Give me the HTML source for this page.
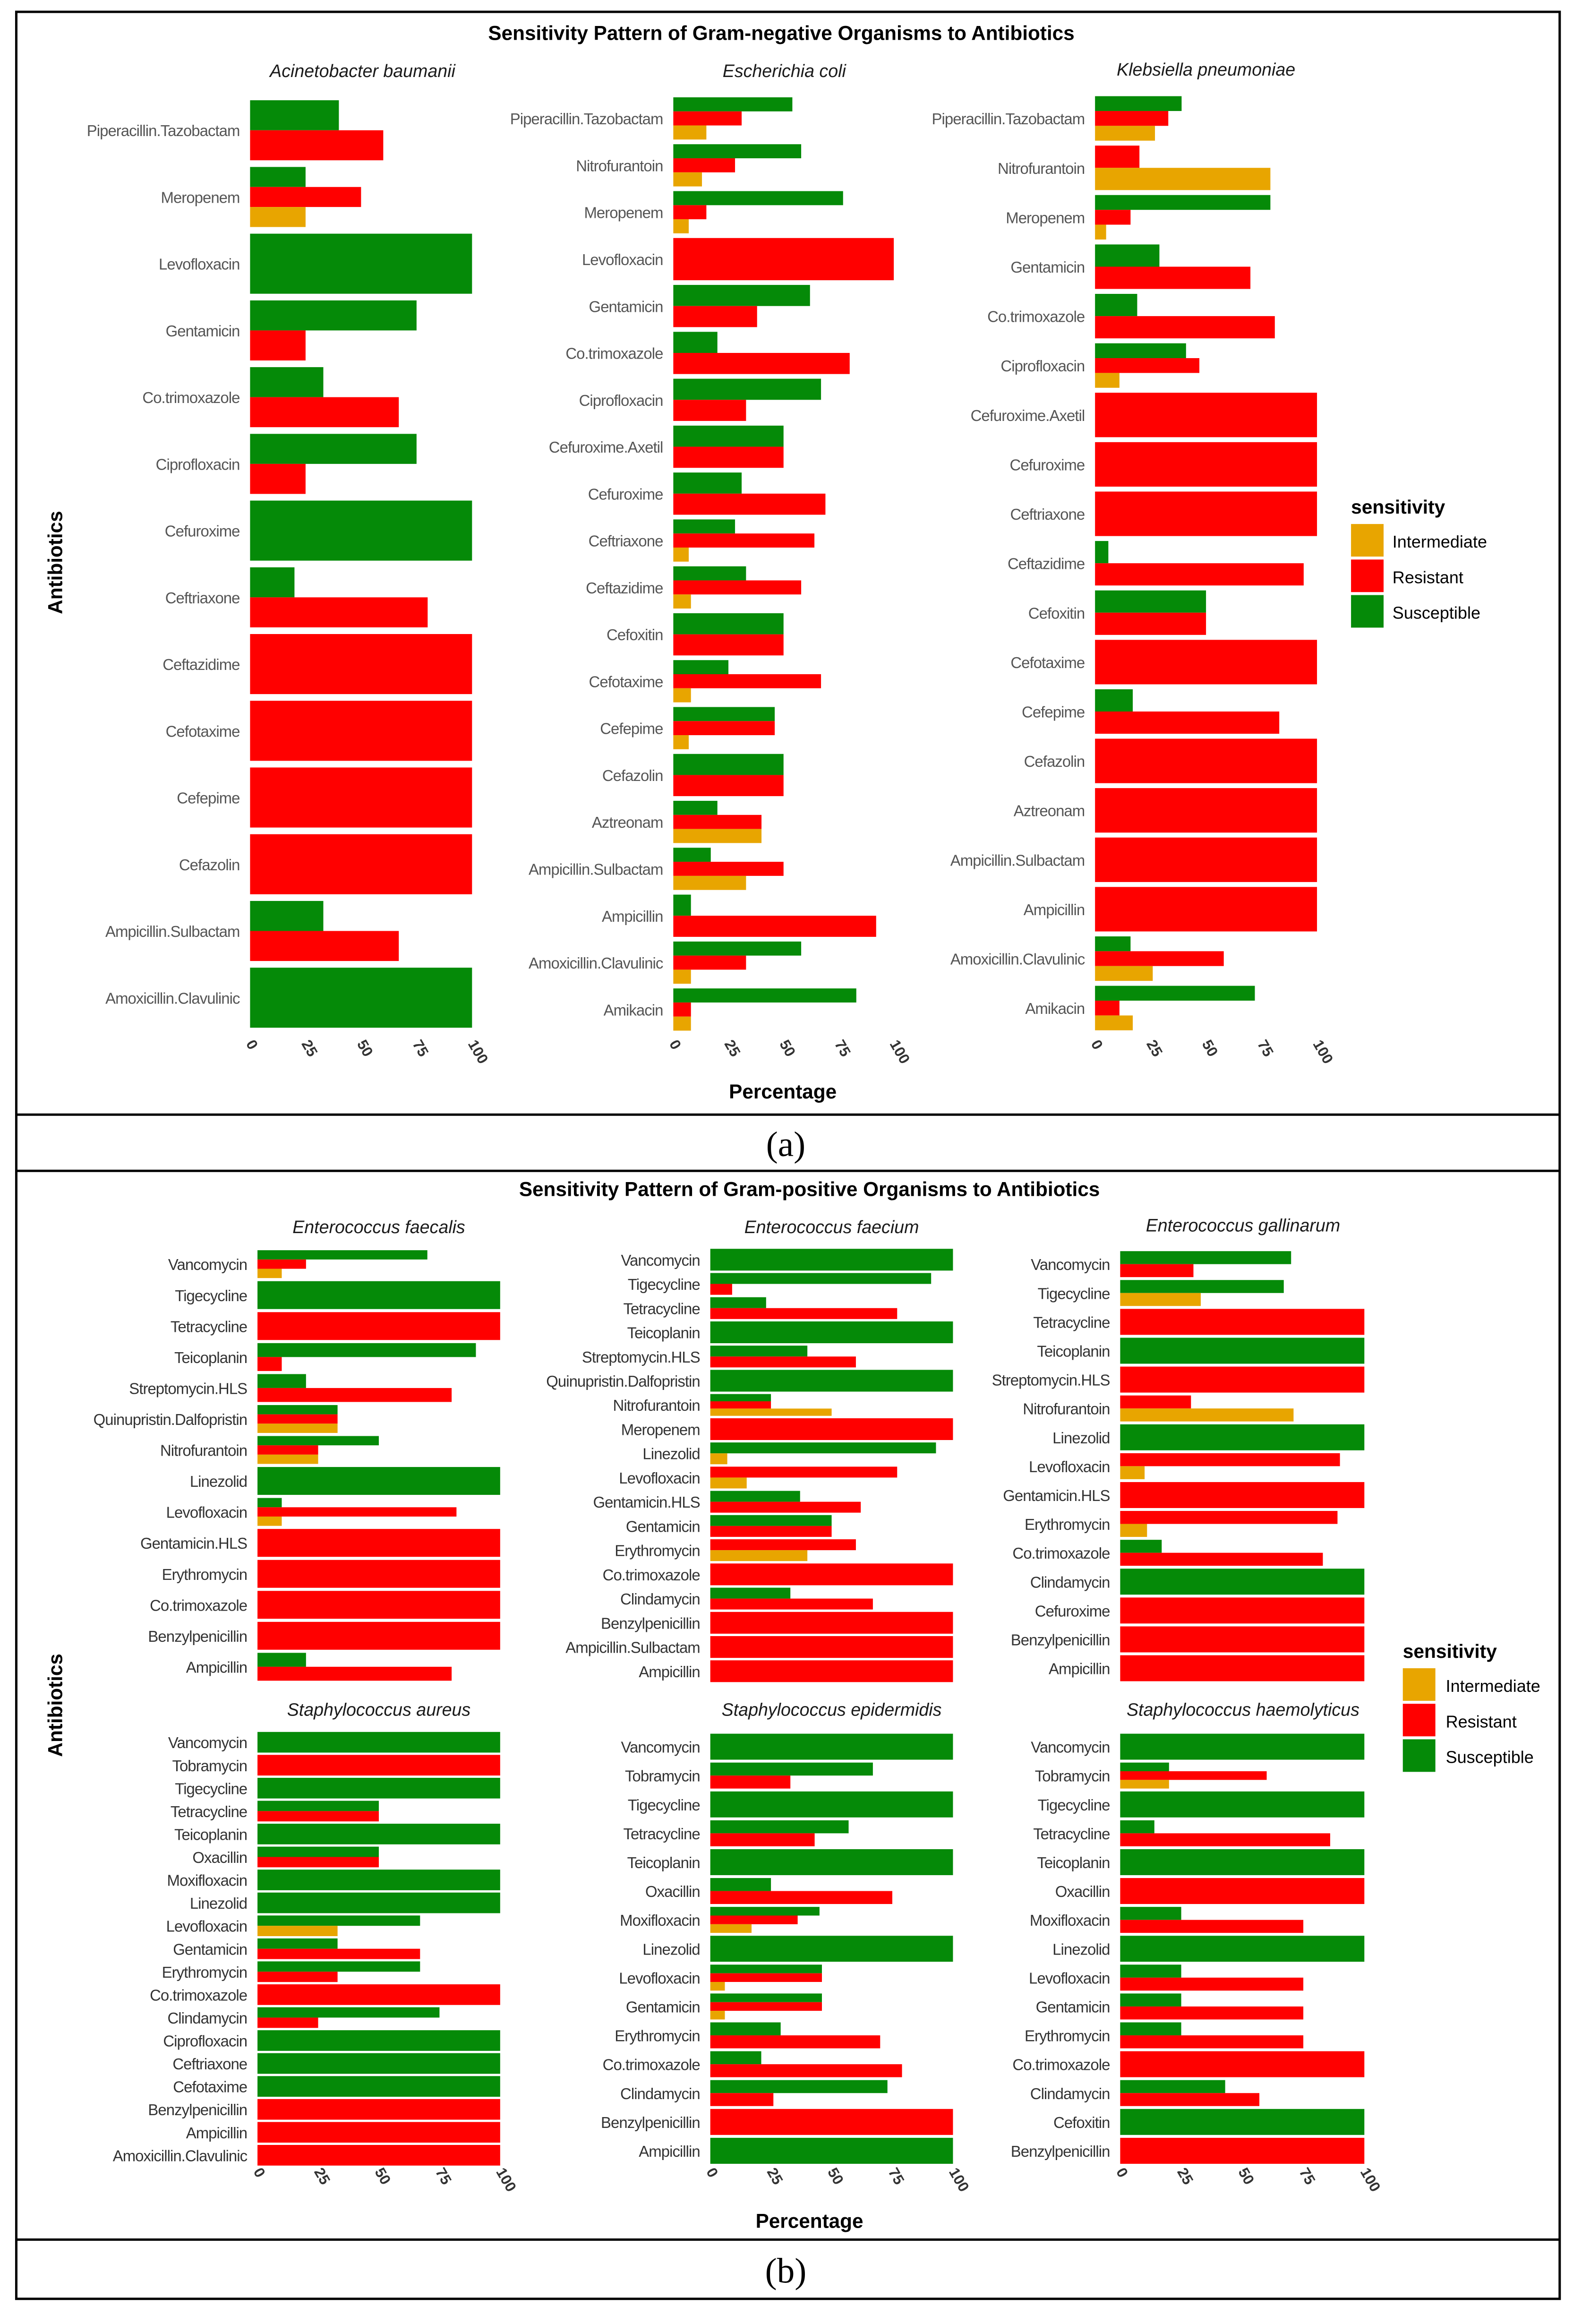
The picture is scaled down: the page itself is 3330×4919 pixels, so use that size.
<!DOCTYPE html>
<html><head><meta charset="utf-8"><style>
html,body{margin:0;padding:0;background:#fff}
svg{display:block}
text{font-family:"Liberation Sans",sans-serif}
</style></head><body>
<svg id="fig" width="3330" height="4919" viewBox="0 0 1063 1570" preserveAspectRatio="none" xmlns="http://www.w3.org/2000/svg">
<rect x="0" y="0" width="1063" height="1570" fill="#fff"/>
<rect x="11" y="8" width="1043" height="1545" fill="none" stroke="#000" stroke-width="1.6"/>
<line x1="11" y1="753" x2="1054" y2="753" stroke="#000" stroke-width="1.6"/>
<line x1="11" y1="791" x2="1054" y2="791" stroke="#000" stroke-width="1.6"/>
<line x1="11" y1="1513" x2="1054" y2="1513" stroke="#000" stroke-width="1.6"/>
<text x="531" y="781" text-anchor="middle" font-size="24" style="font-family:'Liberation Serif',serif">(a)</text>
<text x="531" y="1542" text-anchor="middle" font-size="24" style="font-family:'Liberation Serif',serif">(b)</text>
<text x="528" y="27" text-anchor="middle" font-size="13.5" font-weight="bold">Sensitivity Pattern of Gram-negative Organisms to Antibiotics</text>
<text x="547" y="808" text-anchor="middle" font-size="13.5" font-weight="bold">Sensitivity Pattern of Gram-positive Organisms to Antibiotics</text>
<text transform="translate(42,380) rotate(-90)" text-anchor="middle" font-size="13.5" font-weight="bold">Antibiotics</text>
<text transform="translate(42,1152) rotate(-90)" text-anchor="middle" font-size="13.5" font-weight="bold">Antibiotics</text>
<text x="529" y="742" text-anchor="middle" font-size="13.5" font-weight="bold">Percentage</text>
<text x="547" y="1505" text-anchor="middle" font-size="13.5" font-weight="bold">Percentage</text>
<g id="legend-a">
<text x="913" y="347" font-size="13" font-weight="bold">sensitivity</text>
<rect x="913" y="354" width="22" height="22" fill="#e8a500"/><text x="941" y="370" font-size="11.5">Intermediate</text>
<rect x="913" y="378" width="22" height="22" fill="#ff0000"/><text x="941" y="394" font-size="11.5">Resistant</text>
<rect x="913" y="402" width="22" height="22" fill="#058a08"/><text x="941" y="418" font-size="11.5">Susceptible</text>
</g>
<g id="legend-b">
<text x="948" y="1120" font-size="13" font-weight="bold">sensitivity</text>
<rect x="948" y="1127" width="22" height="22" fill="#e8a500"/><text x="977" y="1143" font-size="11.5">Intermediate</text>
<rect x="948" y="1151" width="22" height="22" fill="#ff0000"/><text x="977" y="1167" font-size="11.5">Resistant</text>
<rect x="948" y="1175" width="22" height="22" fill="#058a08"/><text x="977" y="1191" font-size="11.5">Susceptible</text>
</g>
<g id="plots"></g>
</svg>
<script>
const N = null;
const tickValues = [0, 25, 50, 75, 100];
const tickLabels = ["0", "25", "50", "75", "100"];

// Panel a - Acinetobacter baumanii
const catsA1 = ["Piperacillin.Tazobactam","Meropenem","Levofloxacin","Gentamicin","Co.trimoxazole","Ciprofloxacin","Cefuroxime","Ceftriaxone","Ceftazidime","Cefotaxime","Cefepime","Cefazolin","Ampicillin.Sulbactam","Amoxicillin.Clavulinic"];
const susA1 = [40,25,100,75,33,75,100,20,N,N,N,N,33,100];
const resA1 = [60,50,N,25,67,25,N,80,100,100,100,100,67,N];
const intA1 = [N,25,N,N,N,N,N,N,N,N,N,N,N,N];
// Panel a - Escherichia coli
const catsA2 = ["Piperacillin.Tazobactam","Nitrofurantoin","Meropenem","Levofloxacin","Gentamicin","Co.trimoxazole","Ciprofloxacin","Cefuroxime.Axetil","Cefuroxime","Ceftriaxone","Ceftazidime","Cefoxitin","Cefotaxime","Cefepime","Cefazolin","Aztreonam","Ampicillin.Sulbactam","Ampicillin","Amoxicillin.Clavulinic","Amikacin"];
const susA2 = [54,58,77,N,62,20,67,50,31,28,33,50,25,46,50,20,17,8,58,83];
const resA2 = [31,28,15,100,38,80,33,50,69,64,58,50,67,46,50,40,50,92,33,8];
const intA2 = [15,13,7,N,N,N,N,N,N,7,8,N,8,7,N,40,33,N,8,8];
// Panel a - Klebsiella pneumoniae
const catsA3 = ["Piperacillin.Tazobactam","Nitrofurantoin","Meropenem","Gentamicin","Co.trimoxazole","Ciprofloxacin","Cefuroxime.Axetil","Cefuroxime","Ceftriaxone","Ceftazidime","Cefoxitin","Cefotaxime","Cefepime","Cefazolin","Aztreonam","Ampicillin.Sulbactam","Ampicillin","Amoxicillin.Clavulinic","Amikacin"];
const susA3 = [39,N,79,29,19,41,N,N,N,6,50,N,17,N,N,N,N,16,72];
const resA3 = [33,20,16,70,81,47,100,100,100,94,50,100,83,100,100,100,100,58,11];
const intA3 = [27,79,5,N,N,11,N,N,N,N,N,N,N,N,N,N,N,26,17];
// Panel b - Enterococcus faecalis
const catsB1 = ["Vancomycin","Tigecycline","Tetracycline","Teicoplanin","Streptomycin.HLS","Quinupristin.Dalfopristin","Nitrofurantoin","Linezolid","Levofloxacin","Gentamicin.HLS","Erythromycin","Co.trimoxazole","Benzylpenicillin","Ampicillin"];
const susB1 = [70,100,N,90,20,33,50,100,10,N,N,N,N,20];
const resB1 = [20,N,100,10,80,33,25,N,82,100,100,100,100,80];
const intB1 = [10,N,N,N,N,33,25,N,10,N,N,N,N,N];
// Panel b - Enterococcus faecium
const catsB2 = ["Vancomycin","Tigecycline","Tetracycline","Teicoplanin","Streptomycin.HLS","Quinupristin.Dalfopristin","Nitrofurantoin","Meropenem","Linezolid","Levofloxacin","Gentamicin.HLS","Gentamicin","Erythromycin","Co.trimoxazole","Clindamycin","Benzylpenicillin","Ampicillin.Sulbactam","Ampicillin"];
const susB2 = [100,91,23,100,40,100,25,N,93,N,37,50,N,N,33,N,N,N];
const resB2 = [N,9,77,N,60,N,25,100,N,77,62,50,60,100,67,100,100,100];
const intB2 = [N,N,N,N,N,N,50,N,7,15,N,N,40,N,N,N,N,N];
// Panel b - Enterococcus gallinarum
const catsB3 = ["Vancomycin","Tigecycline","Tetracycline","Teicoplanin","Streptomycin.HLS","Nitrofurantoin","Linezolid","Levofloxacin","Gentamicin.HLS","Erythromycin","Co.trimoxazole","Clindamycin","Cefuroxime","Benzylpenicillin","Ampicillin"];
const susB3 = [70,67,N,100,N,N,100,N,N,N,17,100,N,N,N];
const resB3 = [30,N,100,N,100,29,N,90,100,89,83,N,100,100,100];
const intB3 = [N,33,N,N,N,71,N,10,N,11,N,N,N,N,N];
// Panel b - Staphylococcus aureus
const catsB4 = ["Vancomycin","Tobramycin","Tigecycline","Tetracycline","Teicoplanin","Oxacillin","Moxifloxacin","Linezolid","Levofloxacin","Gentamicin","Erythromycin","Co.trimoxazole","Clindamycin","Ciprofloxacin","Ceftriaxone","Cefotaxime","Benzylpenicillin","Ampicillin","Amoxicillin.Clavulinic"];
const susB4 = [100,N,100,50,100,50,100,100,67,33,67,N,75,100,100,100,N,N,N];
const resB4 = [N,100,N,50,N,50,N,N,N,67,33,100,25,N,N,N,100,100,100];
const intB4 = [N,N,N,N,N,N,N,N,33,N,N,N,N,N,N,N,N,N,N];
// Panel b - Staphylococcus epidermidis
const catsB5 = ["Vancomycin","Tobramycin","Tigecycline","Tetracycline","Teicoplanin","Oxacillin","Moxifloxacin","Linezolid","Levofloxacin","Gentamicin","Erythromycin","Co.trimoxazole","Clindamycin","Benzylpenicillin","Ampicillin"];
const susB5 = [100,67,100,57,100,25,45,100,46,46,29,21,73,N,100];
const resB5 = [N,33,N,43,N,75,36,N,46,46,70,79,26,100,N];
const intB5 = [N,N,N,N,N,N,17,N,6,6,N,N,N,N,N];
// Panel b - Staphylococcus haemolyticus
const catsB6 = ["Vancomycin","Tobramycin","Tigecycline","Tetracycline","Teicoplanin","Oxacillin","Moxifloxacin","Linezolid","Levofloxacin","Gentamicin","Erythromycin","Co.trimoxazole","Clindamycin","Cefoxitin","Benzylpenicillin"];
const susB6 = [100,20,100,14,100,N,25,100,25,25,25,N,43,100,N];
const resB6 = [N,60,N,86,N,100,75,N,75,75,75,100,57,N,100];
const intB6 = [N,20,N,N,N,N,N,N,N,N,N,N,N,N,N];

const NS = "http://www.w3.org/2000/svg";
const root = document.getElementById("plots");
const COLORS = {S:"#058a08", R:"#ff0000", I:"#e8a500"};
const KEYS = {S:"susceptible", R:"resistant", I:"intermediate"};

function mk(tag, attrs, parent){
  const e = document.createElementNS(NS, tag);
  for (const k in attrs) e.setAttribute(k, attrs[k]);
  parent.appendChild(e);
  return e;
}

function facet(id, title, tx, ty, x0, x1, yFirst, yLast, cats, sus, res, intm, labelColor, tickY){
  const g = mk("g", {}, root);
  
  
  const step = (yLast - yFirst) / (cats.length - 1);
  const xs = v => x0 + v / 100 * (x1 - x0);
  const ys = i => yFirst + i * step;
  const t = mk("text", {x: tx, y: ty, "text-anchor": "middle", "font-size": 12, "font-style": "italic", fill: "#1a1a1a"}, g);
  
  
  t.textContent = title;
  const total = step * 0.9;
  cats.forEach((c, i) => {
    const cy = ys(i);
    const lab = mk("text", {x: x0 - 7, y: cy + 4, "text-anchor": "end", "font-size": 10.5, fill: labelColor, "letter-spacing": "-0.3"}, g);
    
    
    lab.textContent = c;
    const groups = [];
    if (sus[i] != null) groups.push(["S", sus[i]]);
    if (res[i] != null) groups.push(["R", res[i]]);
    if (intm[i] != null) groups.push(["I", intm[i]]);
    const w = total / groups.length;
    groups.forEach((gr, j) => {
      const r = mk("rect", {x: xs(0), y: cy - total / 2 + j * w, width: Math.max(0, xs(gr[1]) - xs(0)), height: w, fill: COLORS[gr[0]]}, g);
      
      
    });
  });
  if (tickY != null) {
    tickValues.forEach((v, k) => {
      const tl = mk("text", {x: 0, y: 0, "font-size": 10, "font-weight": "bold", fill: "#333", transform: "translate(" + (xs(v) - 3) + "," + tickY + ") rotate(60)"}, g);
      
      
      tl.textContent = tickLabels[k];
    });
  }
}

facet("acinetobacter", "Acinetobacter baumanii", 245, 52, 169, 319, 88, 674, catsA1, susA1, resA1, intA1, "#555", 705);
facet("ecoli", "Escherichia coli", 530, 52, 455, 604, 80, 682, catsA2, susA2, resA2, intA2, "#555", 705);
facet("klebsiella", "Klebsiella pneumoniae", 815, 51, 740, 890, 80, 681, catsA3, susA3, resA3, intA3, "#555", 705);
facet("e-faecalis", "Enterococcus faecalis", 256, 833, 174, 338, 854, 1126, catsB1, susB1, resB1, intB1, "#333", null);
facet("e-faecium", "Enterococcus faecium", 562, 833, 480, 644, 851, 1129, catsB2, susB2, resB2, intB2, "#333", null);
facet("e-gallinarum", "Enterococcus gallinarum", 840, 832, 757, 922, 854, 1127, catsB3, susB3, resB3, intB3, "#333", null);
facet("s-aureus", "Staphylococcus aureus", 256, 1159, 174, 338, 1177, 1456, catsB4, susB4, resB4, intB4, "#333", 1467);
facet("s-epidermidis", "Staphylococcus epidermidis", 562, 1159, 480, 644, 1180, 1453, catsB5, susB5, resB5, intB5, "#333", 1467);
facet("s-haemolyticus", "Staphylococcus haemolyticus", 840, 1159, 757, 922, 1180, 1453, catsB6, susB6, resB6, intB6, "#333", 1467);
</script>
</body></html>
